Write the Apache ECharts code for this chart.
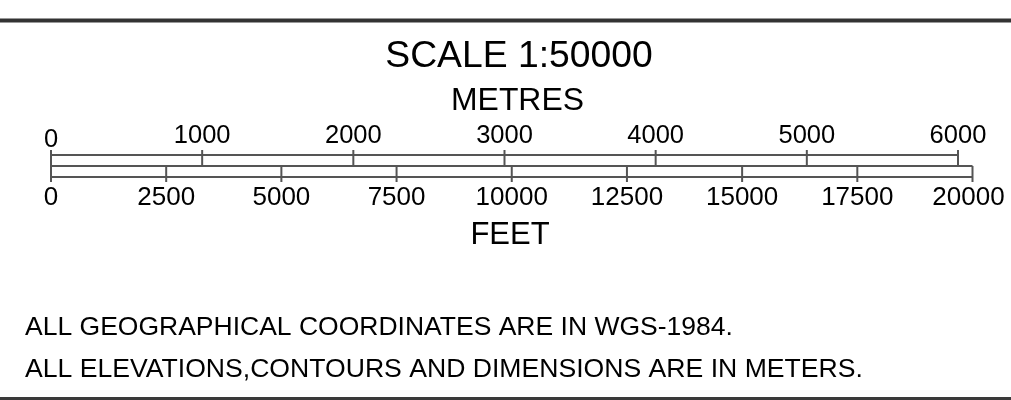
<!DOCTYPE html>
<html>
<head>
<meta charset="utf-8">
<script src="https://cdn.jsdelivr.net/npm/echarts@6/dist/echarts.min.js"></script>
<style>
html,body{margin:0;padding:0;background:#fff;}
#chart{width:1011px;height:400px;}
</style>
</head>
<body>
<div id="chart"></div>
<script>
// ---- data ----
const metreTicks = [0, 1000, 2000, 3000, 4000, 5000, 6000];
const feetTicks = [0, 2500, 5000, 7500, 10000, 12500, 15000, 17500, 20000];
const titleText = 'SCALE 1:50000';
const metreUnit = 'METRES';
const feetUnit = 'FEET';
const notes = [
  'ALL GEOGRAPHICAL COORDINATES ARE IN WGS-1984.',
  'ALL ELEVATIONS,CONTOURS AND DIMENSIONS ARE IN METERS.'
];
const METRES_PER_FOOT = 0.3048;

// ---- style ----
const LINE = '#555';
const FONT = '"Liberation Sans", Arial, sans-serif';

const chart = echarts.init(document.getElementById('chart'), null, {renderer: 'canvas'});

function makeRender(rowY, tickTop, tickBottom, labelY, isMetre) {
  return function (params, api) {
    const x = api.coord([api.value(0), 0])[0];
    const ticks = isMetre ? metreTicks : feetTicks;
    const isLast = params.dataIndex === ticks.length - 1;
    const children = [
      {type: 'line', shape: {x1: x, y1: tickTop, x2: x, y2: tickBottom},
       style: {stroke: LINE, lineWidth: 2}},
      {type: 'text', style: {
        text: String(api.value(0)),
        x: (!isMetre && isLast) ? x - 4 : x,
        y: (isMetre && params.dataIndex === 0) ? labelY + 4 : labelY,
        align: 'center', verticalAlign: 'middle',
        font: (isMetre ? '25.5px ' : '26px ') + FONT, fill: '#000'}}
    ];
    if (params.dataIndex === 0) {
      const xEnd = api.coord([ticks[ticks.length - 1], 0])[0];
      rowY.forEach(function (y) {
        children.push({type: 'line', shape: {x1: x, y1: y, x2: xEnd, y2: y},
          style: {stroke: LINE, lineWidth: 2}});
      });
    }
    return {type: 'group', children: children};
  };
}

const option = {
  animation: false,
  backgroundColor: '#fff',
  grid: {left: 51, right: 38.5, top: 0, bottom: 0},
  xAxis: [
    {type: 'value', min: 0, max: feetTicks[feetTicks.length - 1], show: false},
    {type: 'value', min: 0, max: feetTicks[feetTicks.length - 1] * METRES_PER_FOOT, show: false}
  ],
  yAxis: {type: 'value', min: 0, max: 1, show: false},
  graphic: [
    {type: 'rect', left: 0, top: 18.5, shape: {width: 1011, height: 4}, style: {fill: '#333'}},
    {type: 'rect', left: 0, top: 397, shape: {width: 1011, height: 3}, style: {fill: '#3a3a3a'}},
    {type: 'text', x: 519, y: 57, style: {text: titleText, font: '37.3px ' + FONT, fill: '#000', align: 'center', verticalAlign: 'middle'}},
    {type: 'text', x: 517.5, y: 101, style: {text: metreUnit, font: '31.9px ' + FONT, fill: '#000', align: 'center', verticalAlign: 'middle'}},
    {type: 'text', x: 510, y: 235, style: {text: feetUnit, font: '31px ' + FONT, fill: '#000', align: 'center', verticalAlign: 'middle'}},
    {type: 'text', x: 25, y: 327.5, style: {text: notes[0], font: '26.5px ' + FONT, fill: '#000', align: 'left', verticalAlign: 'middle'}},
    {type: 'text', x: 25, y: 369.2, style: {text: notes[1], font: '26.6px ' + FONT, fill: '#000', align: 'left', verticalAlign: 'middle'}}
  ],
  series: [
    {
      type: 'custom', name: 'metres', xAxisIndex: 1, yAxisIndex: 0,
      data: metreTicks.map(function (v) { return [v]; }),
      encode: {x: 0},
      renderItem: makeRender([155], 150, 166, 136, true),
      silent: true
    },
    {
      type: 'custom', name: 'feet', xAxisIndex: 0, yAxisIndex: 0,
      data: feetTicks.map(function (v) { return [v]; }),
      encode: {x: 0},
      renderItem: makeRender([166, 177], 166, 182, 198, false),
      silent: true
    }
  ]
};
chart.setOption(option);
</script>
</body>
</html>
